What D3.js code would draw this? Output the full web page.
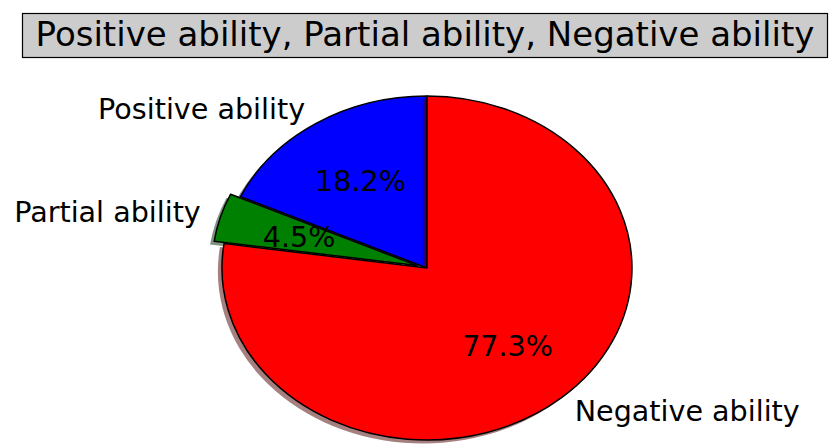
<!DOCTYPE html>
<html>
<head>
<meta charset="utf-8">
<script src="https://cdn.jsdelivr.net/npm/d3@7"></script>
<style>
  html, body { margin: 0; padding: 0; background: #fff; }
  svg { display: block; }
  text { font-family: "DejaVu Sans", sans-serif; fill: #000; }
</style>
</head>
<body>
<svg id="chart" width="831" height="446"></svg>
<script>
// Survey outcome shares
const categories = ["Positive ability", "Partial ability", "Negative ability"];
const counts = [4, 1, 17];
const colors = ["#0000ff", "#008000", "#ff0000"];
const explode = [0, 0.05, 0];
const titleText = "Positive ability, Partial ability, Negative ability";

const cx = 427, cy = 268;      // pie centre
const rx = 205, ry = 172;      // pie radii (axes aspect is not equal)
const labelDist = 1.1, pctDist = 0.6;
const labelSize = "28.6px";

const svg = d3.select("#chart");

// Title with grey box
const titleG = svg.append("g");
titleG.append("rect")
  .attr("x", 22.5).attr("y", 13.5)
  .attr("width", 805).attr("height", 44)
  .attr("fill", "#cccccc").attr("stroke", "#000").attr("stroke-width", 1.2);
titleG.append("text")
  .attr("x", 425).attr("y", 34)
  .attr("text-anchor", "middle")
  .attr("dominant-baseline", "central")
  .style("font-size", "34px")
  .text(titleText);

// Angles: start at 12 o'clock, go counter-clockwise
const pie = d3.pie().sort(null).startAngle(0).endAngle(-2 * Math.PI);
const arcs = pie(counts);
const total = d3.sum(counts);
const unitArc = d3.arc().innerRadius(0).outerRadius(1);

// unit-circle direction -> pixel position
const px = (a, r) => cx + r * rx * Math.sin(a);
const py = (a, r) => cy - r * ry * Math.cos(a);

const pieG = svg.append("g");

function shade(c) {
  const k = d3.rgb(c);
  return d3.rgb(k.r * 0.3, k.g * 0.3, k.b * 0.3).toString();
}

arcs.forEach((d, i) => {
  const mid = (d.startAngle + d.endAngle) / 2;
  const ex = explode[i] * Math.sin(mid);
  const ey = -explode[i] * Math.cos(mid);
  // shadow, offset down-left
  pieG.append("path")
    .attr("d", unitArc(d))
    .attr("transform", `translate(${cx + (ex - 0.02) * rx},${cy + (ey + 0.02) * ry}) scale(${rx},${ry})`)
    .attr("fill", shade(colors[i]))
    .attr("fill-opacity", 0.5)
    .attr("stroke", "none");
  // wedge
  pieG.append("path")
    .attr("d", unitArc(d))
    .attr("transform", `translate(${cx + ex * rx},${cy + ey * ry}) scale(${rx},${ry})`)
    .attr("fill", colors[i])
    .attr("stroke", "#000")
    .attr("stroke-width", 1.5)
    .attr("stroke-linejoin", "round")
    .attr("vector-effect", "non-scaling-stroke");
});

// Category labels and percentages
arcs.forEach((d, i) => {
  const mid = (d.startAngle + d.endAngle) / 2;
  const sx = Math.sin(mid);
  const lr = labelDist + explode[i];
  svg.append("text")
    .attr("x", px(mid, lr)).attr("y", py(mid, lr))
    .attr("text-anchor", sx < 0 ? "end" : "start")
    .attr("dominant-baseline", "central")
    .style("font-size", labelSize)
    .text(categories[i]);
  const pr = pctDist + explode[i];
  svg.append("text")
    .attr("x", px(mid, pr)).attr("y", py(mid, pr))
    .attr("text-anchor", "middle")
    .attr("dominant-baseline", "central")
    .style("font-size", labelSize)
    .text((d.value / total * 100).toFixed(1) + "%");
});
</script>
</body>
</html>
